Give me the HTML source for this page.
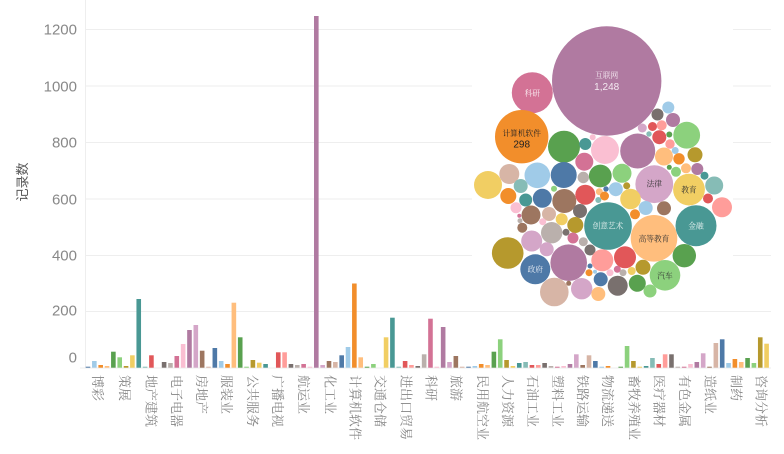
<!DOCTYPE html>
<html><head><meta charset="utf-8"><style>
html,body{margin:0;padding:0;background:#fff;}
svg{display:block;}
.c1{fill:#4e79a7}.c2{fill:#a0cbe8}.c3{fill:#f28e2b}.c4{fill:#ffbe7d}.c5{fill:#59a14f}
.c6{fill:#8cd17d}.c7{fill:#b6992d}.c8{fill:#f1ce63}.c9{fill:#499894}.c10{fill:#86bcb6}
.c11{fill:#e15759}.c12{fill:#ff9d9a}.c13{fill:#79706e}.c14{fill:#bab0ac}.c15{fill:#d37295}
.c16{fill:#fabfd2}.c17{fill:#b07aa1}.c18{fill:#d4a6c8}.c19{fill:#9d7660}.c20{fill:#d7b5a6}
.yl{font-family:"Liberation Sans",sans-serif;font-size:15px;fill:#888;text-anchor:end;dominant-baseline:central;}
.xl{font-family:"Liberation Serif","Noto Serif CJK SC",serif;font-size:13px;fill:#858585;dominant-baseline:central;}
.bt{font-family:"Liberation Serif","Noto Serif CJK SC",serif;font-size:7.7px;text-anchor:middle;dominant-baseline:central;}
.bn{font-family:"Liberation Sans",sans-serif;font-size:10px;text-anchor:middle;dominant-baseline:central;}
</style></head><body>
<svg width="784" height="454" viewBox="0 0 784 454" xmlns="http://www.w3.org/2000/svg">
<g stroke="#eeeeee" stroke-width="1">
<line x1="85" y1="29.5" x2="771" y2="29.5"/>
<line x1="85" y1="86" x2="771" y2="86"/>
<line x1="85" y1="142.5" x2="771" y2="142.5"/>
<line x1="85" y1="199" x2="771" y2="199"/>
<line x1="85" y1="255.5" x2="771" y2="255.5"/>
<line x1="85" y1="311.5" x2="771" y2="311.5"/>
<line x1="80" y1="368" x2="771" y2="368"/>
<line x1="85.5" y1="0" x2="85.5" y2="368"/>
</g>
<text class="yl" x="77" y="30">1200</text>
<text class="yl" x="77" y="87">1000</text>
<text class="yl" x="77" y="143">800</text>
<text class="yl" x="77" y="200">600</text>
<text class="yl" x="77" y="256">400</text>
<text class="yl" x="77" y="311">200</text>
<text class="yl" x="77" y="358">0</text>
<text x="22.7" y="182" transform="rotate(-90 22.7 182)" style="font-family:'Liberation Sans','Noto Sans CJK SC',sans-serif;font-size:13px;fill:#555;text-anchor:middle;dominant-baseline:central;">记录数</text>
<g>
<rect class="c1" x="85.70" y="366.7" width="4.6" height="1"/>
<rect class="c2" x="92.04" y="361" width="4.6" height="6.7"/>
<rect class="c3" x="98.38" y="365" width="4.6" height="2.7"/>
<rect class="c4" x="104.73" y="366" width="4.6" height="1.7"/>
<rect class="c5" x="111.07" y="351.7" width="4.6" height="16"/>
<rect class="c6" x="117.41" y="357.3" width="4.6" height="10.4"/>
<rect class="c7" x="123.75" y="366" width="4.6" height="1.7"/>
<rect class="c8" x="130.09" y="355.3" width="4.6" height="12.4"/>
<rect class="c9" x="136.44" y="299" width="4.6" height="68.7"/>
<rect class="c10" x="142.78" y="366.7" width="4.6" height="1"/>
<rect class="c11" x="149.12" y="355.3" width="4.6" height="12.4"/>
<rect class="c13" x="161.80" y="362" width="4.6" height="5.7"/>
<rect class="c14" x="168.15" y="363" width="4.6" height="4.7"/>
<rect class="c15" x="174.49" y="356" width="4.6" height="11.7"/>
<rect class="c16" x="180.83" y="344" width="4.6" height="23.7"/>
<rect class="c17" x="187.17" y="330" width="4.6" height="37.7"/>
<rect class="c18" x="193.51" y="325" width="4.6" height="42.7"/>
<rect class="c19" x="199.86" y="350.7" width="4.6" height="17"/>
<rect class="c20" x="206.20" y="366.7" width="4.6" height="1"/>
<rect class="c1" x="212.54" y="348" width="4.6" height="19.7"/>
<rect class="c2" x="218.88" y="361" width="4.6" height="6.7"/>
<rect class="c3" x="225.22" y="364" width="4.6" height="3.7"/>
<rect class="c4" x="231.57" y="302.7" width="4.6" height="65"/>
<rect class="c5" x="237.91" y="337.3" width="4.6" height="30.4"/>
<rect class="c6" x="244.25" y="366.7" width="4.6" height="1"/>
<rect class="c7" x="250.59" y="360" width="4.6" height="7.7"/>
<rect class="c8" x="256.93" y="362.7" width="4.6" height="5"/>
<rect class="c9" x="263.28" y="364" width="4.6" height="3.7"/>
<rect class="c11" x="275.96" y="352.3" width="4.6" height="15.4"/>
<rect class="c12" x="282.30" y="352.3" width="4.6" height="15.4"/>
<rect class="c13" x="288.64" y="364" width="4.6" height="3.7"/>
<rect class="c14" x="294.99" y="365" width="4.6" height="2.7"/>
<rect class="c15" x="301.33" y="364" width="4.6" height="3.7"/>
<rect class="c16" x="307.67" y="366.7" width="4.6" height="1"/>
<rect class="c17" x="314.01" y="16" width="4.6" height="351.7"/>
<rect class="c18" x="320.35" y="365" width="4.6" height="2.7"/>
<rect class="c19" x="326.70" y="361" width="4.6" height="6.7"/>
<rect class="c20" x="333.04" y="362" width="4.6" height="5.7"/>
<rect class="c1" x="339.38" y="355.3" width="4.6" height="12.4"/>
<rect class="c2" x="345.72" y="347" width="4.6" height="20.7"/>
<rect class="c3" x="352.06" y="283.5" width="4.6" height="84.2"/>
<rect class="c4" x="358.41" y="357.3" width="4.6" height="10.4"/>
<rect class="c5" x="364.75" y="366.7" width="4.6" height="1"/>
<rect class="c6" x="371.09" y="364" width="4.6" height="3.7"/>
<rect class="c8" x="383.77" y="337.3" width="4.6" height="30.4"/>
<rect class="c9" x="390.12" y="317.7" width="4.6" height="50"/>
<rect class="c10" x="396.46" y="366.7" width="4.6" height="1"/>
<rect class="c11" x="402.80" y="361" width="4.6" height="6.7"/>
<rect class="c12" x="409.14" y="365" width="4.6" height="2.7"/>
<rect class="c13" x="415.48" y="366" width="4.6" height="1.7"/>
<rect class="c14" x="421.83" y="354.3" width="4.6" height="13.4"/>
<rect class="c15" x="428.17" y="318.7" width="4.6" height="49"/>
<rect class="c16" x="434.51" y="366.7" width="4.6" height="1"/>
<rect class="c17" x="440.85" y="327" width="4.6" height="40.7"/>
<rect class="c18" x="447.19" y="362" width="4.6" height="5.7"/>
<rect class="c19" x="453.54" y="356" width="4.6" height="11.7"/>
<rect class="c20" x="459.88" y="366.7" width="4.6" height="1"/>
<rect class="c1" x="466.22" y="366.7" width="4.6" height="1"/>
<rect class="c2" x="472.56" y="366" width="4.6" height="1.7"/>
<rect class="c3" x="478.90" y="364" width="4.6" height="3.7"/>
<rect class="c4" x="485.25" y="365" width="4.6" height="2.7"/>
<rect class="c5" x="491.59" y="351.7" width="4.6" height="16"/>
<rect class="c6" x="497.93" y="339.3" width="4.6" height="28.4"/>
<rect class="c7" x="504.27" y="360" width="4.6" height="7.7"/>
<rect class="c8" x="510.61" y="366" width="4.6" height="1.7"/>
<rect class="c9" x="516.96" y="363" width="4.6" height="4.7"/>
<rect class="c10" x="523.30" y="362" width="4.6" height="5.7"/>
<rect class="c11" x="529.64" y="365" width="4.6" height="2.7"/>
<rect class="c12" x="535.98" y="365" width="4.6" height="2.7"/>
<rect class="c13" x="542.32" y="363" width="4.6" height="4.7"/>
<rect class="c14" x="548.67" y="366" width="4.6" height="1.7"/>
<rect class="c15" x="555.01" y="366.7" width="4.6" height="1"/>
<rect class="c16" x="561.35" y="366" width="4.6" height="1.7"/>
<rect class="c17" x="567.69" y="364" width="4.6" height="3.7"/>
<rect class="c18" x="574.03" y="354.3" width="4.6" height="13.4"/>
<rect class="c19" x="580.38" y="365" width="4.6" height="2.7"/>
<rect class="c20" x="586.72" y="355.3" width="4.6" height="12.4"/>
<rect class="c1" x="593.06" y="361" width="4.6" height="6.7"/>
<rect class="c2" x="599.40" y="366.7" width="4.6" height="1"/>
<rect class="c3" x="605.74" y="366" width="4.6" height="1.7"/>
<rect class="c5" x="618.43" y="366.7" width="4.6" height="1"/>
<rect class="c6" x="624.77" y="346" width="4.6" height="21.7"/>
<rect class="c7" x="631.11" y="361" width="4.6" height="6.7"/>
<rect class="c8" x="637.45" y="366.7" width="4.6" height="1"/>
<rect class="c9" x="643.80" y="366" width="4.6" height="1.7"/>
<rect class="c10" x="650.14" y="358" width="4.6" height="9.7"/>
<rect class="c11" x="656.48" y="364" width="4.6" height="3.7"/>
<rect class="c12" x="662.82" y="354.3" width="4.6" height="13.4"/>
<rect class="c13" x="669.16" y="354.3" width="4.6" height="13.4"/>
<rect class="c14" x="675.51" y="366.7" width="4.6" height="1"/>
<rect class="c15" x="681.85" y="366.7" width="4.6" height="1"/>
<rect class="c16" x="688.19" y="364" width="4.6" height="3.7"/>
<rect class="c17" x="694.53" y="362" width="4.6" height="5.7"/>
<rect class="c18" x="700.87" y="353.3" width="4.6" height="14.4"/>
<rect class="c19" x="707.22" y="366.7" width="4.6" height="1"/>
<rect class="c20" x="713.56" y="343" width="4.6" height="24.7"/>
<rect class="c1" x="719.90" y="339.3" width="4.6" height="28.4"/>
<rect class="c2" x="726.24" y="363" width="4.6" height="4.7"/>
<rect class="c3" x="732.58" y="359" width="4.6" height="8.7"/>
<rect class="c4" x="738.93" y="362" width="4.6" height="5.7"/>
<rect class="c5" x="745.27" y="358" width="4.6" height="9.7"/>
<rect class="c6" x="751.61" y="363" width="4.6" height="4.7"/>
<rect class="c7" x="757.95" y="337.3" width="4.6" height="30.4"/>
<rect class="c8" x="764.29" y="343.7" width="4.6" height="24"/>
</g>
<g>
<text class="xl" transform="translate(97.3 375) rotate(90)">博彩</text>
<text class="xl" transform="translate(124.3 375) rotate(90)">策展</text>
<text class="xl" transform="translate(151 375) rotate(90)">地产建筑</text>
<text class="xl" transform="translate(176.7 375) rotate(90)">电子电器</text>
<text class="xl" transform="translate(201.7 375) rotate(90)">房地产</text>
<text class="xl" transform="translate(226.5 375) rotate(90)">服装业</text>
<text class="xl" transform="translate(252.3 375) rotate(90)">公共服务</text>
<text class="xl" transform="translate(277.7 375) rotate(90)">广播电视</text>
<text class="xl" transform="translate(303.3 375) rotate(90)">航运业</text>
<text class="xl" transform="translate(330 375) rotate(90)">化工业</text>
<text class="xl" transform="translate(355 375) rotate(90)">计算机软件</text>
<text class="xl" transform="translate(380 375) rotate(90)">交通仓储</text>
<text class="xl" transform="translate(406 375) rotate(90)">进出口贸易</text>
<text class="xl" transform="translate(431 375) rotate(90)">科研</text>
<text class="xl" transform="translate(456 375) rotate(90)">旅游</text>
<text class="xl" transform="translate(482.7 375) rotate(90)">民用航空业</text>
<text class="xl" transform="translate(507.3 375) rotate(90)">人力资源</text>
<text class="xl" transform="translate(532.7 375) rotate(90)">石油工业</text>
<text class="xl" transform="translate(557.7 375) rotate(90)">塑料工业</text>
<text class="xl" transform="translate(582.3 375) rotate(90)">铁路运输</text>
<text class="xl" transform="translate(607.7 375) rotate(90)">物流递送</text>
<text class="xl" transform="translate(634 375) rotate(90)">畜牧养殖业</text>
<text class="xl" transform="translate(659 375) rotate(90)">医疗器材</text>
<text class="xl" transform="translate(684.3 375) rotate(90)">有色金属</text>
<text class="xl" transform="translate(710 375) rotate(90)">造纸业</text>
<text class="xl" transform="translate(736 375) rotate(90)">制药</text>
<text class="xl" transform="translate(761 375) rotate(90)">咨询分析</text>
</g>
<rect x="472" y="0" width="261" height="308" fill="#fff"/>
<g>
<circle class="c17" cx="606.7" cy="81" r="54.7"/>
<circle class="c15" cx="532.3" cy="92.7" r="20.5"/>
<circle class="c3" cx="521.7" cy="136.7" r="26.7"/>
<circle class="c5" cx="564" cy="146.7" r="16"/>
<circle class="c9" cx="585.3" cy="144" r="6"/>
<circle class="c16" cx="605" cy="150" r="14"/>
<circle class="c17" cx="637.7" cy="151" r="17.5"/>
<circle class="c16" cx="592.7" cy="137.3" r="3"/>
<circle class="c18" cx="642.3" cy="128" r="4.5"/>
<circle class="c11" cx="652.5" cy="126.5" r="4.5"/>
<circle class="c13" cx="657.5" cy="114.5" r="6"/>
<circle class="c2" cx="668.3" cy="107.5" r="6"/>
<circle class="c17" cx="673" cy="120" r="7"/>
<circle class="c12" cx="661.7" cy="125.3" r="5"/>
<circle class="c11" cx="659.3" cy="137.2" r="7"/>
<circle class="c10" cx="649" cy="134" r="2.7"/>
<circle class="c5" cx="669.3" cy="134.5" r="3"/>
<circle class="c12" cx="670" cy="144" r="4.7"/>
<circle class="c6" cx="686.7" cy="135.2" r="13.4"/>
<circle class="c2" cx="675.2" cy="150.5" r="3.5"/>
<circle class="c7" cx="695" cy="154.8" r="7.5"/>
<circle class="c4" cx="664" cy="156.5" r="9"/>
<circle class="c3" cx="679" cy="158.8" r="5.7"/>
<circle class="c15" cx="584.3" cy="161.7" r="9"/>
<circle class="c4" cx="686" cy="168.3" r="5"/>
<circle class="c17" cx="697.3" cy="169" r="6"/>
<circle class="c5" cx="669.3" cy="167.3" r="2.5"/>
<circle class="c6" cx="676" cy="171.8" r="5"/>
<circle class="c9" cx="704.5" cy="175.7" r="4"/>
<circle class="c8" cx="488" cy="185" r="14"/>
<circle class="c20" cx="509.3" cy="174" r="10"/>
<circle class="c2" cx="537.3" cy="175.3" r="12.8"/>
<circle class="c1" cx="563.7" cy="175" r="13"/>
<circle class="c5" cx="600.3" cy="176" r="11.4"/>
<circle class="c6" cx="622" cy="173.3" r="9.5"/>
<circle class="c18" cx="654.3" cy="184.2" r="18.9"/>
<circle class="c8" cx="689" cy="189.6" r="15.9"/>
<circle class="c10" cx="714.2" cy="185.5" r="9"/>
<circle class="c10" cx="520.7" cy="186" r="7"/>
<circle class="c14" cx="583.3" cy="177.5" r="5.7"/>
<circle class="c3" cx="508.3" cy="196" r="8"/>
<circle class="c9" cx="525.7" cy="200" r="6.5"/>
<circle class="c1" cx="542.3" cy="198.3" r="9.5"/>
<circle class="c19" cx="564.3" cy="201" r="12"/>
<circle class="c11" cx="585.3" cy="194.7" r="10"/>
<circle class="c6" cx="554" cy="188.7" r="3"/>
<circle class="c4" cx="599.3" cy="191.7" r="3.5"/>
<circle class="c1" cx="606" cy="189" r="2.7"/>
<circle class="c3" cx="604.5" cy="196" r="4.5"/>
<circle class="c2" cx="615.8" cy="189.2" r="7"/>
<circle class="c7" cx="626.7" cy="185.8" r="3.5"/>
<circle class="c8" cx="630.5" cy="199" r="10.3"/>
<circle class="c2" cx="645.7" cy="208" r="7"/>
<circle class="c3" cx="635" cy="214.3" r="5"/>
<circle class="c19" cx="664" cy="208.3" r="7"/>
<circle class="c11" cx="708" cy="198.5" r="5"/>
<circle class="c12" cx="722" cy="207.3" r="10"/>
<circle class="c10" cx="598.3" cy="200" r="3"/>
<circle class="c16" cx="516" cy="207.7" r="5.5"/>
<circle class="c19" cx="531" cy="215" r="9.5"/>
<circle class="c20" cx="549" cy="214" r="7"/>
<circle class="c13" cx="580" cy="211" r="7"/>
<circle class="c8" cx="561.7" cy="219.3" r="6"/>
<circle class="c15" cx="519.3" cy="215.7" r="2"/>
<circle class="c14" cx="520" cy="220.7" r="2.5"/>
<circle class="c16" cx="542.7" cy="221.7" r="3.5"/>
<circle class="c7" cx="575.3" cy="225" r="8"/>
<circle class="c9" cx="608" cy="226" r="23.8"/>
<circle class="c4" cx="654" cy="238.3" r="23.3"/>
<circle class="c9" cx="696" cy="225.7" r="20.5"/>
<circle class="c19" cx="522.3" cy="227.7" r="5"/>
<circle class="c14" cx="551.7" cy="232.7" r="10.7"/>
<circle class="c13" cx="566" cy="232.3" r="3.5"/>
<circle class="c15" cx="573" cy="238" r="5.5"/>
<circle class="c14" cx="583.3" cy="241.7" r="4.5"/>
<circle class="c18" cx="531.7" cy="241" r="10.5"/>
<circle class="c7" cx="507.7" cy="253" r="15.8"/>
<circle class="c18" cx="546.7" cy="249.3" r="7"/>
<circle class="c17" cx="568.7" cy="262.7" r="18.3"/>
<circle class="c1" cx="535.3" cy="269.3" r="15"/>
<circle class="c13" cx="590" cy="250" r="5.5"/>
<circle class="c12" cx="602.3" cy="260.3" r="11"/>
<circle class="c11" cx="625" cy="257.3" r="11"/>
<circle class="c5" cx="684.3" cy="255.7" r="11.7"/>
<circle class="c20" cx="554.3" cy="292" r="14.3"/>
<circle class="c18" cx="581.7" cy="288.7" r="10.7"/>
<circle class="c4" cx="598.3" cy="294" r="7"/>
<circle class="c1" cx="600.7" cy="279.3" r="7"/>
<circle class="c13" cx="617.7" cy="285.7" r="10"/>
<circle class="c5" cx="637.3" cy="283.3" r="8.5"/>
<circle class="c7" cx="643" cy="267.3" r="7.5"/>
<circle class="c6" cx="665" cy="275.3" r="15.3"/>
<circle class="c6" cx="650" cy="291" r="6.5"/>
<circle class="c16" cx="610" cy="272.7" r="3.5"/>
<circle class="c15" cx="617.3" cy="269.3" r="3.5"/>
<circle class="c14" cx="623" cy="272.7" r="3.5"/>
<circle class="c8" cx="631.7" cy="271" r="4"/>
<circle class="c3" cx="589" cy="272.7" r="3.5"/>
<circle class="c1" cx="590" cy="266" r="2.5"/>
<circle class="c2" cx="595" cy="271.7" r="2"/>
<circle class="c19" cx="568.7" cy="283.3" r="2.5"/>
</g>
<text class="bt" x="606.7" y="75.3" fill="#f4eaf1">互联网</text>
<text class="bn" x="606.7" y="87.3" fill="#f4eaf1">1,248</text>
<text class="bt" x="532.3" y="93.7" fill="#fbeef3">科研</text>
<text class="bt" x="521.7" y="133.3" fill="#222">计算机软件</text>
<text class="bn" x="521.7" y="145" fill="#222">298</text>
<text class="bt" x="654.3" y="184" fill="#333">法律</text>
<text class="bt" x="689" y="190" fill="#333">教育</text>
<text class="bt" x="608" y="226" fill="#e8f2f1">创意艺术</text>
<text class="bt" x="654" y="239" fill="#333">高等教育</text>
<text class="bt" x="696" y="226" fill="#e8f2f1">金融</text>
<text class="bt" x="535.3" y="269.3" fill="#e9eef5">政府</text>
<text class="bt" x="665" y="276" fill="#333">汽车</text>
</svg>
</body></html>
